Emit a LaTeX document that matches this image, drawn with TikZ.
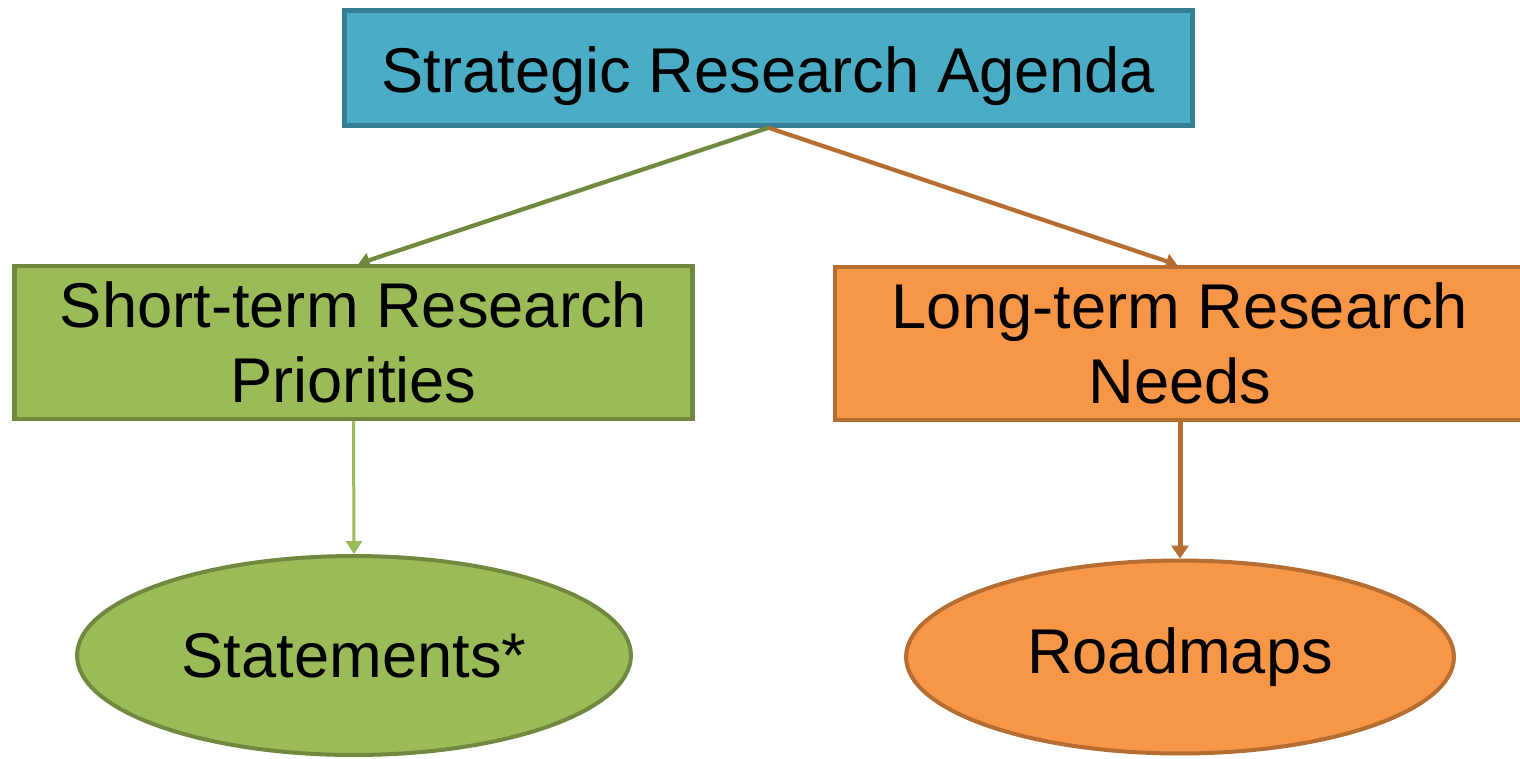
\documentclass[tikz,border=0pt]{standalone}
\usepackage{fontspec}
\setmainfont{Liberation Sans}
\usetikzlibrary{shapes.geometric,arrows.meta}
\definecolor{topfill}{HTML}{4BACC6}
\definecolor{topline}{HTML}{357F92}
\definecolor{grfill}{HTML}{9BBB59}
\definecolor{grline}{HTML}{71893F}
\definecolor{orfill}{HTML}{F79646}
\definecolor{orline}{HTML}{B66D31}
\tikzset{
  boxstyle/.style={rectangle, line width=0.09cm, inner sep=0pt, align=center,
    font=\fontsize{36}{42.5}\selectfont},
  ellstyle/.style={ellipse, line width=0.08cm, inner sep=0pt, align=center,
    font=\fontsize{36}{42.5}\selectfont},
  conn/.style={line width=0.085cm, -{Triangle[length=0.22cm,width=0.3cm]}},
}
\begin{document}
\begin{tikzpicture}[x=0.02cm,y=-0.02cm]
\useasboundingbox (0,0) rectangle (1520,758);
\node[boxstyle, draw=topline, fill=topfill, minimum width=16.96cm, minimum height=2.3cm]
  (top) at (768.5,68) {\raisebox{-14.2pt}[0pt][0pt]{Strategic Research Agenda}};
\node[boxstyle, draw=grline, fill=grfill, minimum width=13.56cm, minimum height=3.06cm]
  (short) at (353.5,342.5) {Short-term Research\\Priorities};
\node[boxstyle, draw=orline, fill=orfill, minimum width=13.8cm, minimum height=3.06cm]
  (long) at (1180,343.5) {Long-term Research\\Needs};
\node[ellstyle, draw=grline, fill=grfill, minimum width=11.08cm, minimum height=3.98cm]
  (stat) at (354,655.5) {Statements*};
\node[ellstyle, draw=orline, fill=orfill, minimum width=10.96cm, minimum height=3.86cm]
  (road) at (1180,657) {Roadmaps};
\draw[conn, draw=grline, fill=grline] (top.south) -- ([xshift=0.1cm]short.north);
\draw[conn, draw=orline, fill=orline] (top.south) -- ([xshift=-0.06cm]long.north);
\draw[line width=0.06cm, draw=grfill, -{Triangle[length=0.26cm,width=0.32cm]}] (short.south) -- (stat.north);
\draw[line width=0.1cm, draw=orline, -{Triangle[length=0.26cm,width=0.34cm]}] (long.south) -- (road.north);
\end{tikzpicture}
\end{document}
